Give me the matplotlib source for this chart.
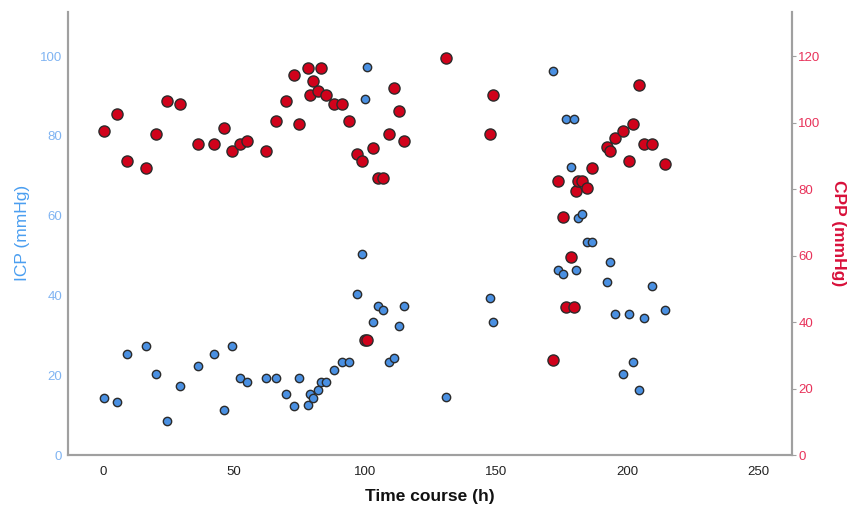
import matplotlib.pyplot as plt

# time points (h) with matching ICP and CPP readings (mmHg)
time_h = [0.4, 5.2, 9.3, 16.3, 20.2, 24.3, 29.3, 36.3, 42.2, 46.2, 49.1, 52.2,
          55.1, 62.1, 66.1, 70.0, 73.0, 74.7, 78.1, 79.0, 80.0, 82.1, 83.1, 85.1,
          88.0, 91.1, 94.0, 96.8, 99.0, 99.8, 100.9, 103.0, 104.8, 107.0, 109.0,
          110.9, 113.0, 114.9, 130.9, 147.7, 148.9, 171.6, 173.7, 175.7, 176.7,
          178.6, 179.8, 180.7, 181.5, 182.7, 184.7, 186.7, 192.5, 193.6, 195.5,
          198.6, 200.6, 202.5, 204.6, 206.5, 209.5, 214.4]
icp = [14.4, 13.4, 25.3, 27.3, 20.3, 8.4, 17.4, 22.4, 25.3, 11.4, 27.3, 19.4,
       18.4, 19.4, 19.4, 15.4, 12.4, 19.4, 12.5, 15.4, 14.4, 16.4, 18.3, 18.3,
       21.4, 23.4, 23.4, 40.3, 50.3, 89.2, 97.3, 33.4, 37.3, 36.3, 23.4,
       24.4, 32.3, 37.3, 14.5, 39.3, 33.4, 96.2, 46.3, 45.3, 84.2,
       72.3, 84.2, 46.3, 59.3, 60.4, 53.3, 53.3, 43.3, 48.3, 35.3,
       20.4, 35.3, 23.4, 16.4, 34.3, 42.3, 36.3]
cpp = [97.5, 102.5, 88.5, 86.5, 96.5, 106.5, 105.5, 93.5, 93.5, 98.5, 91.5, 93.5,
       94.5, 91.5, 100.5, 106.5, 114.5, 99.5, 116.5, 108.5, 112.5, 109.5, 116.5, 108.5,
       105.5, 105.5, 100.5, 90.5, 88.5, 34.7, 34.7, 92.5, 83.5, 83.5, 96.5,
       110.5, 103.5, 94.5, 119.5, 96.5, 108.5, 28.7, 82.5, 71.5, 44.6,
       59.7, 44.6, 79.5, 82.5, 82.5, 80.5, 86.5, 92.8, 91.5, 95.5,
       97.5, 88.5, 99.5, 111.5, 93.5, 93.5, 87.5]

plt.rcParams['font.family'] = ['Liberation Sans', 'DejaVu Sans']

fig = plt.figure(figsize=(8.47, 5.05), dpi=100)
ax = fig.add_axes([0.080, 0.099, 0.855, 0.877])
ax2 = ax.twinx()

ax.scatter(time_h, icp, s=36, color='#4a90e2', edgecolor='#2b2b2b', linewidth=1.0, zorder=3)
ax2.scatter(time_h, cpp, s=64, color='#d0021b', edgecolor='#2b2b2b', linewidth=1.0, zorder=3)

ax.set_xlim(-13.5, 263)
ax.set_ylim(0, 111)
ax2.set_ylim(0, 133.3)
ax.set_xticks([0, 50, 100, 150, 200, 250])
ax.set_yticks([0, 20, 40, 60, 80, 100])
ax2.set_yticks([0, 20, 40, 60, 80, 100, 120])

for a in (ax, ax2):
    a.spines['top'].set_visible(False)
    for s in ('left', 'bottom', 'right'):
        a.spines[s].set_color('#a0a0a0')
        a.spines[s].set_linewidth(1.5)

ax.tick_params(axis='x', length=0, labelsize=9.5, labelcolor='#222222', pad=8)
ax.tick_params(axis='y', length=0, labelsize=9.5, labelcolor='#80b4f2', pad=4)
ax2.tick_params(axis='y', length=3, color='#a0a0a0', labelsize=9.5, labelcolor='#e8325a', pad=1.5)

# axis titles placed by hand so they sit where the reference has them
fig.text(430 / 847, 1 - 496 / 505, 'Time course (h)', fontsize=12.5, fontweight='bold',
         color='#111111', ha='center', va='center')
fig.text(23 / 847, 1 - 233 / 505, 'ICP (mmHg)', fontsize=12.5, color='#4a9ef0',
         rotation=90, ha='center', va='center')
fig.text(838 / 847, 1 - 233 / 505, 'CPP (mmHg)', fontsize=12.5, fontweight='bold',
         color='#d8103a', rotation=270, ha='center', va='center')

fig.savefig('out.png', dpi=100)
